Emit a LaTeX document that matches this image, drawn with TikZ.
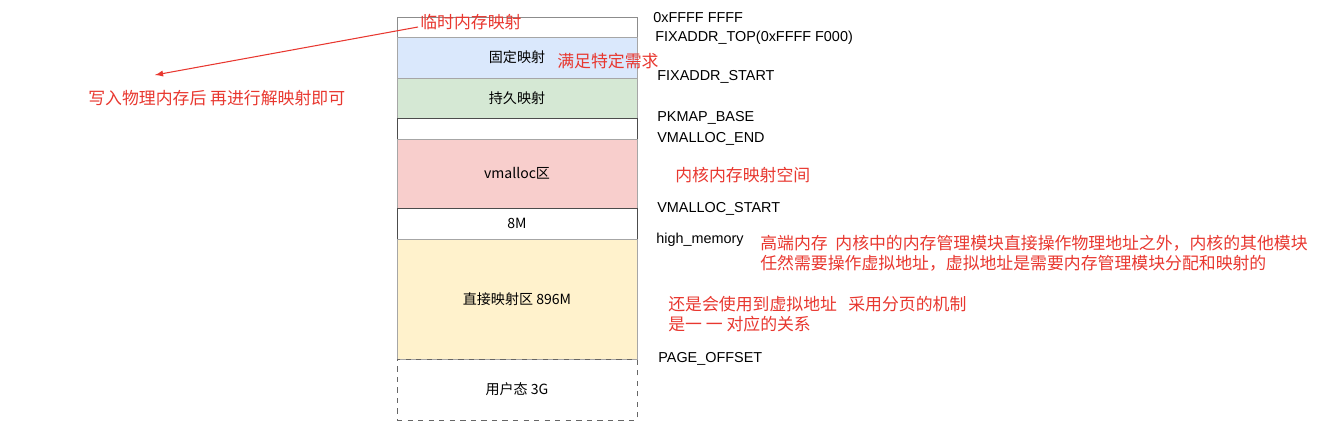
\documentclass[tikz,border=0pt]{standalone}
\usepackage{fontspec}
\setmainfont{Liberation Sans}
\newfontfamily\cjk{Noto Sans CJK SC}
\definecolor{fixblue}{HTML}{DAE8FC}
\definecolor{kmapgreen}{HTML}{D5E8D4}
\definecolor{vmpink}{HTML}{F8CECC}
\definecolor{directyellow}{HTML}{FFF2CC}
\definecolor{notered}{HTML}{E8372F}
\tikzset{
  band/.style={draw=gray!70, minimum width=4.8cm, inner sep=0pt, font=\cjk\fontsize{8}{9}\selectfont},
  addr/.style={anchor=west, inner sep=0pt, font=\fontsize{8.2}{9}\selectfont},
  note/.style={anchor=west, inner sep=0pt, text=notered, font=\cjk\fontsize{9.6}{11.5}\selectfont, align=left}
}
\begin{document}
\begin{tikzpicture}[x=0.02cm, y=-0.02cm]
  \useasboundingbox (0,0) rectangle (1328,445);
  % memory bands, top to bottom
  \node[band, minimum height=0.4cm, draw=gray!90] (tmp) at (517,27) {};
  \node[band, minimum height=0.82cm, fill=fixblue] (fix) at (517,57.5) {固定映射};
  \node[band, minimum height=0.8cm, fill=kmapgreen] (pkmap) at (517,98) {持久映射};
  \node[band, minimum height=0.42cm, draw=black!70] (gap1) at (517,128.5) {};
  \node[band, minimum height=1.38cm, fill=vmpink] (vmalloc) at (517,173.5) {vmalloc区};
  \node[band, minimum height=0.62cm, draw=black!70] (gap2) at (517,223.5) {8M};
  \node[band, minimum height=2.4cm, fill=directyellow] (direct) at (517,299) {直接映射区 896M};
  \node[band, minimum height=1.22cm, dashed, draw=black!60] (user) at (517,389.5) {用户态 3G};
  % addresses
  \node[addr] (a1) at (653,18) {0xFFFF FFFF};
  \node[addr] (a2) at (655,38) {FIXADDR\_TOP(0xFFFF F000)};
  \node[addr] (a3) at (657,77) {FIXADDR\_START};
  \node[addr] (a4) at (657,118) {PKMAP\_BASE};
  \node[addr] (a5) at (657,139) {VMALLOC\_END};
  \node[addr] (a6) at (657,209) {VMALLOC\_START};
  \node[addr] (a7) at (656,240) {high\_memory};
  \node[addr] (a8) at (658,359) {PAGE\_OFFSET};
  % notes
  \node[note] (n1) at (420,22) {临时内存映射};
  \node[note] (n2) at (557,61) {满足特定需求};
  \node[note] (n3) at (88,98) {写入物理内存后 再进行解映射即可};
  \node[note] (n4) at (675,175) {内核内存映射空间};
  \node[note] (n5) at (760,253) {高端内存\ \ 内核中的内存管理模块直接操作物理地址之外，内核的其他模块\\任然需要操作虚拟地址，虚拟地址是需要内存管理模块分配和映射的};
  \node[note] (n6) at (668,314) {还是会使用到虚拟地址\ \ \ 采用分页的机制\\是一 一 对应的关系};
  \coordinate (tip) at (155,75);
  \draw[notered, -latex, semithick] (n1.west) ++(-2,5) -- (tip);
\end{tikzpicture}
\end{document}
